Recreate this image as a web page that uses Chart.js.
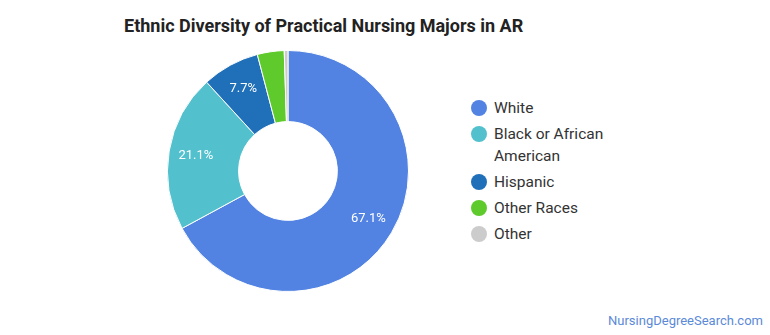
<!DOCTYPE html>
<html>
<head>
<meta charset="utf-8">
<script src="https://cdn.jsdelivr.net/npm/chart.js@4.4.0/dist/chart.umd.min.js"></script>
<style>
	body { margin: 0; background: #fff; font-family: Roboto, sans-serif; }
	#wrap { position: relative; width: 770px; height: 335px; overflow: hidden; }
	#title { position: absolute; left: 124px; top: 15px; font-size: 18px; font-weight: bold; color: #222; }
	#pie { position: absolute; left: 167px; top: 50px; width: 242px; height: 242px; }
	#legend { position: absolute; left: 471px; top: 97px; }
	.item { display: flex; align-items: flex-start; margin-bottom: 4px; }
	.dot { width: 16px; height: 16px; border-radius: 50%; margin-top: 3px; margin-right: 7px; flex: none; }
	.txt { font-size: 15.5px; line-height: 22px; color: #333; width: 122px; }
	#site { position: absolute; right: 7px; top: 313px; font-size: 13px; color: #5b8ad8; }
</style>
</head>
<body>
<div id="wrap">
	<div id="title">Ethnic Diversity of Practical Nursing Majors in AR</div>
	<div id="pie"><canvas id="JSChart" width="242" height="242"></canvas></div>
	<div id="legend"></div>
	<div id="site">NursingDegreeSearch.com</div>
</div>
<script>
var categories = ["White", "Black or African American", "Hispanic", "Other Races", "Other"];
var shares = [67.1, 21.1, 7.7, 3.6, 0.5];
var sliceColors = ["#5283e2", "#52c1cd", "#1f6fb9", "#5fca2c", "#cccccc"];

// percent labels inside the bigger slices, a bit outside the ring middle
var sliceLabels = {
	id: 'sliceLabels',
	afterDatasetsDraw: function(chart) {
		var ctx = chart.ctx;
		var meta = chart.getDatasetMeta(0);
		ctx.save();
		ctx.font = "13px Roboto, sans-serif";
		ctx.fillStyle = "#fff";
		ctx.textAlign = "center";
		ctx.textBaseline = "middle";
		meta.data.forEach(function(arc, i) {
			if (shares[i] < 5) { return; }
			var mid = (arc.startAngle + arc.endAngle) / 2;
			var r = arc.innerRadius + (arc.outerRadius - arc.innerRadius) * 0.62;
			ctx.fillText(shares[i].toFixed(1) + "%", arc.x + Math.cos(mid) * r, arc.y + Math.sin(mid) * r);
		});
		ctx.restore();
	}
};

var ctx = document.getElementById("JSChart").getContext('2d');
var myChart = new Chart(ctx, {
	type: 'doughnut',
	data: {
		labels: categories,
		datasets: [{
			data: shares,
			backgroundColor: sliceColors,
			borderColor: '#fff',
			borderWidth: 1,
			hoverOffset: 0
		}]
	},
	options: {
		responsive: false,
		animation: false,
		cutout: '41%',
		layout: { padding: 0 },
		plugins: {
			legend: { display: false },
			tooltip: { enabled: false }
		}
	},
	plugins: [sliceLabels]
});

var legend = document.getElementById("legend");
categories.forEach(function(name, i) {
	var row = document.createElement("div");
	row.className = "item";
	row.innerHTML = '<span class="dot" style="background:' + sliceColors[i] + '"></span><span class="txt">' + name + '</span>';
	legend.appendChild(row);
});
</script>
</body>
</html>
